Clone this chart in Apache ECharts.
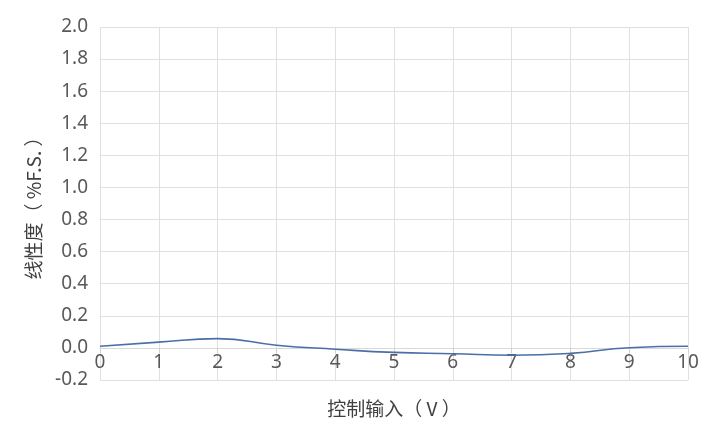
<!DOCTYPE html>
<html>
<head>
<meta charset="utf-8">
<script src="https://cdn.jsdelivr.net/npm/echarts@6/dist/echarts.min.js"></script>
<style>html,body{margin:0;padding:0;background:#fff;}#c{width:727px;height:426px;}</style>
</head>
<body>
<div id="c"></div>
<script>
var xValues = [0, 1, 2, 3, 4, 5, 6, 7, 8, 9, 10];
var linearity = [0.01, 0.036, 0.058, 0.017, -0.008, -0.028, -0.036, -0.046, -0.034, 0.001, 0.01];
var xName = '控制输入（ V ）';
var yName = '线性度（ %F.S. ）';

var yMin = -0.2, yMax = 2.0;
var gridTop = 27, gridBottom = 46, H = 426;
var plotH = H - gridTop - gridBottom;
var zeroOffset = -plotH * (0 - yMin) / (yMax - yMin);

var chart = echarts.init(document.getElementById('c'));
var numFont = '"Noto Sans", "Microsoft YaHei", sans-serif';
var cjkFont = '"Noto Sans CJK SC", sans-serif';
chart.setOption({
  animation: false,
  backgroundColor: '#fff',
  grid: {left: 100, right: 39, top: gridTop, bottom: gridBottom, containLabel: false, outerBoundsMode: 'none'},
  xAxis: {
    type: 'value', min: 0, max: 10, interval: 1, position: 'bottom',
    offset: zeroOffset,
    name: xName, nameLocation: 'middle', nameGap: 51,
    nameTextStyle: {fontFamily: cjkFont, fontSize: 19, color: '#404040'},
    axisLine: {show: true, onZero: false, lineStyle: {color: '#d9d9d9', width: 1}},
    axisTick: {show: true, length: 5, lineStyle: {color: '#d0d0d0'}},
    axisLabel: {fontFamily: numFont, fontSize: 19, color: '#595959', margin: 5},
    splitLine: {show: true, lineStyle: {color: '#e0e0e0', width: 1}}
  },
  yAxis: {
    type: 'value', min: yMin, max: yMax, interval: 0.2,
    name: yName, nameLocation: 'middle', nameGap: 57, nameRotate: 90,
    nameTextStyle: {fontFamily: cjkFont, fontSize: 19, color: '#404040'},
    axisLine: {show: false},
    axisTick: {show: false},
    axisLabel: {fontFamily: numFont, fontSize: 19, color: '#595959', margin: 12,
      formatter: function (v) { return v.toFixed(1); }},
    splitLine: {show: true, lineStyle: {color: '#e0e0e0', width: 1}}
  },
  series: [{
    type: 'line',
    data: xValues.map(function (x, i) { return [x, linearity[i]]; }),
    smooth: 0.5,
    showSymbol: false,
    lineStyle: {color: '#4a6fa8', width: 1.6}
  }]
});
</script>
</body>
</html>
